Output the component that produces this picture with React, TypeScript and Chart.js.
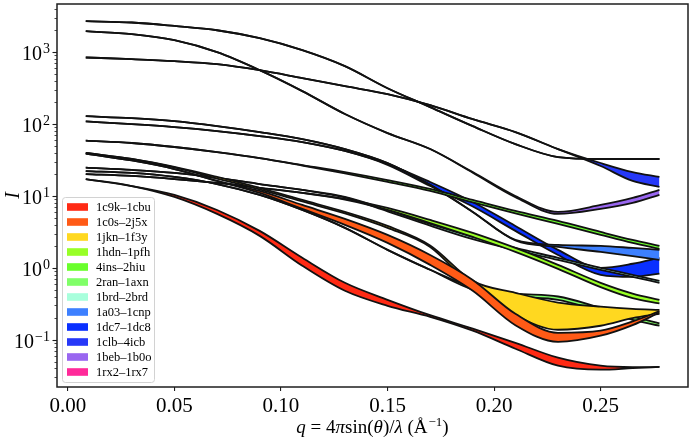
import React, { useEffect, useRef } from 'react';
import { Chart, registerables } from 'chart.js';

Chart.register(...registerables);

// ---------------- data ----------------
const Q = [0.0084, 0.03, 0.05, 0.07, 0.09, 0.11, 0.13, 0.15, 0.17, 0.19, 0.21, 0.23, 0.25, 0.265, 0.2776];
const X_TICKS = [0, 0.05, 0.1, 0.15, 0.2, 0.25];
const Y_DECADES = [-1, 0, 1, 2, 3];

const NAMES = [
  '1c9k–1cbu', '1c0s–2j5x', '1jkn–1f3y', '1hdn–1pfh', '4ins–2hiu', '2ran–1axn',
  '1brd–2brd', '1a03–1cnp', '1dc7–1dc8', '1clb–4icb', '1beb–1b0o', '1rx2–1rx7',
];
const COLORS = [
  '#ff2a14', '#ff5a16', '#ffd820', '#98ff26', '#6aff2c', '#80ff68',
  '#a8ffdc', '#3d80ff', '#0a30ff', '#2638f8', '#9966f0', '#ff2a9a',
];

const R_1C9K_A = [17.1, 13.7, 10.3, 6.37, 3.26, 1.38, 0.62, 0.36, 0.22, 0.143, 0.091, 0.0565, 0.0437, 0.0417, 0.042];
const R_1C9K_B = [17.1, 13.7, 9.66, 5.61, 2.78, 1.07, 0.48, 0.297, 0.209, 0.134, 0.0753, 0.0437, 0.0385, 0.0404, 0.042];
const R_1C0S_A = [38.7, 31.0, 23.6, 16.1, 11.7, 7.47, 4.79, 2.87, 1.51, 0.68, 0.23, 0.125, 0.134, 0.18, 0.25];
const R_1C0S_B = [38.7, 31.0, 23.6, 16.1, 11.0, 6.58, 3.95, 2.22, 1.10, 0.48, 0.16, 0.094, 0.114, 0.16, 0.24];
const R_1JKN_A = [39.4, 32.5, 25.2, 18.3, 12.9, 8.77, 5.98, 3.82, 2.05, 0.66, 0.45, 0.33, 0.29, 0.27, 0.26];
const R_1JKN_B = [39.4, 32.5, 24.8, 17.4, 12.3, 8.36, 5.70, 3.59, 1.95, 0.54, 0.22, 0.138, 0.157, 0.20, 0.23];
const R_1HDN_A = [20.1, 18.9, 17.1, 15.1, 12.9, 11.0, 9.06, 6.79, 4.63, 3.06, 1.89, 1.10, 0.62, 0.44, 0.36];
const R_1HDN_B = [20.1, 18.9, 17.1, 15.1, 12.9, 11.0, 8.9, 6.4, 4.2, 2.69, 1.67, 0.97, 0.54, 0.38, 0.32];
const R_4INS_A = [58.4, 54.2, 47.7, 40.6, 33.5, 26.8, 21.4, 16.6, 12.5, 8.77, 6.17, 4.49, 3.15, 2.44, 2.02];
const R_4INS_B = [58.4, 54.2, 47.7, 40.6, 33.5, 26.4, 20.5, 15.6, 11.7, 8.1, 5.7, 4.07, 2.87, 2.22, 1.83];
const R_2RAN_A = [22.1, 20.8, 18.3, 14.6, 10.3, 6.37, 3.59, 1.78, 0.94, 0.54, 0.44, 0.40, 0.28, 0.21, 0.17];
const R_2RAN_B = [22.1, 20.8, 18.3, 14.6, 10.3, 6.37, 3.59, 1.78, 0.94, 0.50, 0.40, 0.36, 0.25, 0.19, 0.157];
const R_1BRD_A = [24.6, 22.9, 20.8, 17.7, 14.6, 12.1, 9.66, 6.37, 4.07, 2.69, 1.89, 1.38, 1.0, 0.80, 0.66];
const R_1BRD_B = [24.6, 22.9, 20.8, 17.7, 14.6, 12.1, 9.5, 6.1, 3.85, 2.5, 1.76, 1.29, 0.94, 0.75, 0.62];
const R_1A03_A = [128, 120, 109, 93.1, 76.9, 61.5, 44.7, 28.6, 14.2, 5.98, 2.44, 2.08, 2.02, 1.89, 1.78];
const R_1A03_B = [128, 120, 109, 93.1, 76.9, 61.5, 44.7, 28.6, 14.2, 5.98, 2.40, 1.95, 1.67, 1.46, 1.29];
const R_1DC7_A = [108, 99.3, 90.3, 79.5, 67.8, 55.8, 42.0, 27.7, 15.6, 8.23, 3.82, 1.78, 1.0, 1.14, 1.38];
const R_1DC7_B = [108, 99.3, 90.3, 79.5, 67.8, 55.8, 42.0, 27.0, 13.7, 7.1, 3.26, 1.51, 0.80, 0.75, 0.83];
const R_1CLB_A = [836, 792, 743, 675, 557, 432, 334, 259, 182, 116, 76.9, 44.7, 28.6, 21.4, 18.3];
const R_1CLB_B = [836, 792, 743, 675, 557, 432, 334, 259, 182, 116, 76.9, 44.7, 26.0, 16.1, 13.3];
const R_1BEB_A = [1936, 1760, 1452, 990, 557, 285, 137, 74.5, 44.7, 21.4, 9.97, 5.98, 7.47, 9.35, 12.1];
const R_1BEB_B = [1936, 1760, 1452, 990, 557, 285, 137, 74.5, 44.7, 21.0, 9.6, 5.61, 6.58, 7.97, 10.3];
const R_1RX2_A = [2667, 2560, 2290, 1998, 1549, 1057, 634, 313, 171, 93.1, 52.4, 34.6, 32.5, 32.5, 32.5];
const R_1RX2_B = [2667, 2560, 2290, 1998, 1549, 1057, 634, 313, 171, 93.1, 52.4, 34.6, 32.5, 32.5, 32.5];

const PAIRS = [
  [R_1C9K_A, R_1C9K_B], [R_1C0S_A, R_1C0S_B], [R_1JKN_A, R_1JKN_B], [R_1HDN_A, R_1HDN_B],
  [R_4INS_A, R_4INS_B], [R_2RAN_A, R_2RAN_B], [R_1BRD_A, R_1BRD_B], [R_1A03_A, R_1A03_B],
  [R_1DC7_A, R_1DC7_B], [R_1CLB_A, R_1CLB_B], [R_1BEB_A, R_1BEB_B], [R_1RX2_A, R_1RX2_B],
];

const SERIF = '"Liberation Serif", "Times New Roman", serif';

// ---------------- decorations plugin ----------------
const deco = {
  id: 'deco',
  afterDraw(chart: any) {
    const { ctx, chartArea: a, scales } = chart;
    const ys = scales.y;
    ctx.save();

    // frame
    ctx.strokeStyle = '#1e1e1e';
    ctx.lineWidth = 1.5;
    ctx.strokeRect(a.left, a.top, a.right - a.left, a.bottom - a.top);

    // y ticks (major + minor)
    ctx.strokeStyle = '#1e1e1e';
    for (let e = -2; e <= 3; e++) {
      for (let k = 1; k <= 9; k++) {
        const v = k * Math.pow(10, e);
        if (v < ys.min || v > ys.max) continue;
        const py = Math.round(ys.getPixelForValue(v)) + 0.5;
        const len = k === 1 ? 4.5 : 2.5;
        ctx.lineWidth = k === 1 ? 1.1 : 0.8;
        ctx.beginPath();
        ctx.moveTo(a.left - len, py);
        ctx.lineTo(a.left, py);
        ctx.stroke();
      }
    }

    // y labels 10^e
    ctx.fillStyle = '#000';
    ctx.textBaseline = 'alphabetic';
    ctx.textAlign = 'left';
    const rightX = 50;
    for (const e of Y_DECADES) {
      const py = ys.getPixelForValue(Math.pow(10, e));
      const exp = e < 0 ? '−' + Math.abs(e) : String(e);
      ctx.font = `14px ${SERIF}`;
      const we = ctx.measureText(exp).width;
      ctx.font = `20px ${SERIF}`;
      const wb = ctx.measureText('10').width;
      const x0 = rightX - we - wb - 1;
      ctx.fillText('10', x0, py + 8);
      ctx.font = `14px ${SERIF}`;
      ctx.fillText(exp, x0 + wb + 1, py + 1);
    }

    // y title
    ctx.save();
    ctx.translate(14, (a.top + a.bottom) / 2);
    ctx.rotate(-Math.PI / 2);
    ctx.font = `italic 20px ${SERIF}`;
    ctx.textAlign = 'center';
    ctx.textBaseline = 'middle';
    ctx.fillText('I', 0, 0);
    ctx.restore();

    // x title with mixed styles
    const parts: [string, string][] = [
      ['q', 'i'], [' = 4', 'n'], ['π', 'i'], ['sin(', 'n'], ['θ', 'i'], [')/', 'n'],
      ['λ', 'i'], [' (Å', 'n'], ['−1', 's'], [')', 'n'],
    ];
    const fontFor = (s: string) =>
      s === 'i' ? `italic 19px ${SERIF}` : s === 's' ? `13px ${SERIF}` : `19px ${SERIF}`;
    let total = 0;
    for (const [t, s] of parts) {
      ctx.font = fontFor(s);
      total += ctx.measureText(t).width + (s === 's' ? 1 : 0);
    }
    let cx = (a.left + a.right) / 2 - total / 2;
    const base = 433;
    ctx.textAlign = 'left';
    ctx.textBaseline = 'alphabetic';
    for (const [t, s] of parts) {
      ctx.font = fontFor(s);
      ctx.fillText(t, cx + (s === 's' ? 1 : 0), s === 's' ? base - 7 : base);
      cx += ctx.measureText(t).width + (s === 's' ? 1 : 0);
    }

    // legend
    const lx = 62.5, ly = 197.5, lw = 92, lh = 185;
    ctx.beginPath();
    (ctx as any).roundRect(lx, ly, lw, lh, 3);
    ctx.fillStyle = 'rgba(255,255,255,0.8)';
    ctx.fill();
    ctx.strokeStyle = '#d2d2d2';
    ctx.lineWidth = 1;
    ctx.stroke();
    ctx.font = `12.5px ${SERIF}`;
    ctx.textBaseline = 'middle';
    NAMES.forEach((name, i) => {
      const cy = 207 + i * 15;
      ctx.fillStyle = COLORS[i];
      ctx.fillRect(67, cy - 3.8, 21, 7.6);
      ctx.fillStyle = '#000';
      ctx.fillText(name, 96, cy + 0.5);
    });

    ctx.restore();
  },
};

export default function App() {
  const ref = useRef<HTMLCanvasElement | null>(null);

  useEffect(() => {
    if (!ref.current) return;
    const datasets: any[] = [];
    PAIRS.forEach(([hi, lo], i) => {
      const common = {
        borderColor: '#111',
        borderWidth: 1.8,
        pointRadius: 0,
        cubicInterpolationMode: 'monotone',
      };
      datasets.push({
        ...common,
        label: NAMES[i] + ' a',
        data: Q.map((q, j) => ({ x: q, y: hi[j] })),
        fill: false,
      });
      datasets.push({
        ...common,
        label: NAMES[i] + ' b',
        data: Q.map((q, j) => ({ x: q, y: lo[j] })),
        fill: '-1',
        backgroundColor: COLORS[i],
      });
    });

    const chart = new Chart(ref.current, {
      type: 'line',
      data: { datasets },
      options: {
        animation: false,
        responsive: false,
        layout: { padding: { top: 4, right: 3, left: 0, bottom: 0 } },
        plugins: { legend: { display: false }, tooltip: { enabled: false } },
        scales: {
          x: {
            type: 'linear',
            min: -0.0051,
            max: 0.291,
            afterBuildTicks: (s: any) => {
              s.ticks = X_TICKS.map((v) => ({ value: v }));
            },
            afterFit: (s: any) => {
              s.height = 56;
            },
            grid: {
              display: true,
              drawOnChartArea: false,
              drawTicks: true,
              tickLength: 4,
              color: '#1e1e1e',
              lineWidth: 1.1,
            },
            border: { display: false },
            ticks: {
              autoSkip: false,
              maxRotation: 0,
              padding: 3,
              color: '#000',
              font: { family: SERIF, size: 21 },
              callback: (v: any) => Number(v).toFixed(2),
            },
          },
          y: {
            type: 'logarithmic',
            min: 0.02213,
            max: 4624,
            afterFit: (s: any) => {
              s.width = 57;
            },
            grid: { display: false },
            border: { display: false },
            ticks: { display: false },
          },
        },
      },
      plugins: [deco],
    });
    return () => chart.destroy();
  }, []);

  return (
    <canvas
      ref={ref}
      width={691}
      height={443}
      style={{ position: 'absolute', left: 0, top: 0, display: 'block' }}
    />
  );
}
